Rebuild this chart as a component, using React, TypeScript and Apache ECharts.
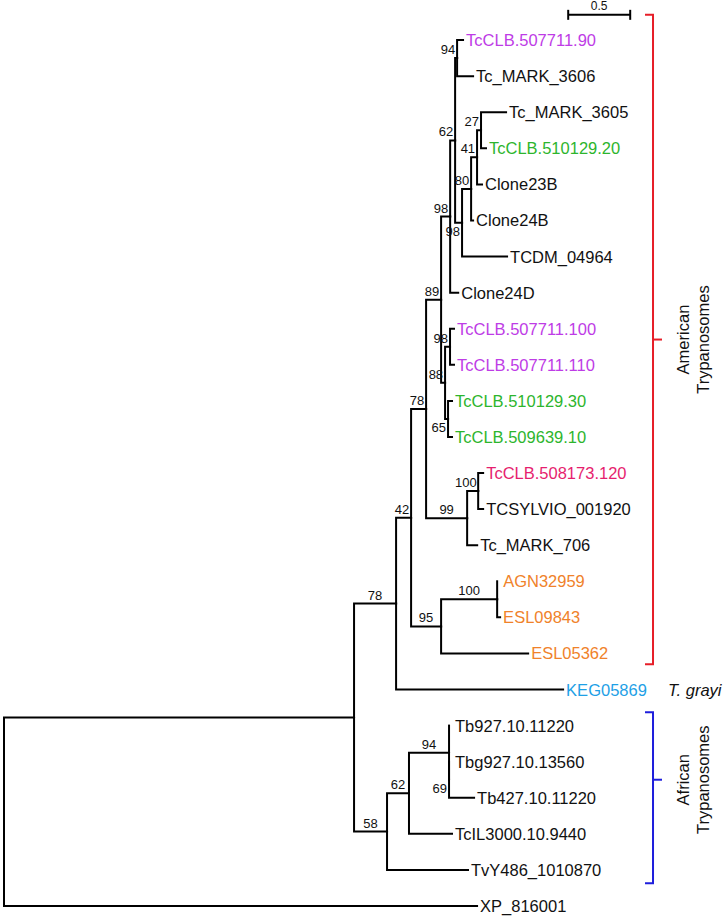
import React, { useEffect, useRef } from 'react';
import * as echarts from 'echarts';

// ---------- DATA ----------
const leafNames = [
  'TcCLB.507711.90', 'Tc_MARK_3606', 'Tc_MARK_3605', 'TcCLB.510129.20', 'Clone23B',
  'Clone24B', 'TCDM_04964', 'Clone24D', 'TcCLB.507711.100', 'TcCLB.507711.110',
  'TcCLB.510129.30', 'TcCLB.509639.10', 'TcCLB.508173.120', 'TCSYLVIO_001920', 'Tc_MARK_706',
  'AGN32959', 'ESL09843', 'ESL05362', 'KEG05869', 'Tb927.10.11220',
  'Tbg927.10.13560', 'Tb427.10.11220', 'TcIL3000.10.9440', 'TvY486_1010870', 'XP_816001',
];
const leafParents = ['A', 'A', 'B', 'B', 'C', 'D', 'E', 'G', 'J', 'J', 'K', 'K', 'N', 'N', 'M', 'Q', 'Q', 'P', 'R', 'V', 'W', 'W', 'U', 'T', 'root'];
const leafBranchLengths = [0.048, 0.129, 0.202, 0.040, 0.040, 0.016, 0.363, 0.065, 0.032, 0.032, 0.032, 0.032, 0.040, 0.040, 0.081, 0, 0.024, 0.702, 1.347, 0, 0, 0.202, 0.347, 0.653, 3.815];
const leafGroups = ['violet', 'black', 'black', 'green', 'black', 'black', 'black', 'black', 'violet', 'violet', 'green', 'green', 'pink', 'black', 'black', 'orange', 'orange', 'orange', 'sky', 'black', 'black', 'black', 'black', 'black', 'black'];

const nodeIds = ['S', 'R', 'T', 'O', 'L', 'P', 'H', 'M', 'G', 'I', 'F', 'A', 'E', 'D', 'C', 'B', 'J', 'K', 'N', 'Q', 'U', 'V', 'W'];
const nodeParents = ['root', 'S', 'S', 'R', 'O', 'O', 'L', 'L', 'H', 'H', 'G', 'F', 'F', 'E', 'D', 'C', 'I', 'I', 'M', 'P', 'T', 'U', 'V'];
const nodeBranchLengths = [2.823, 0.339, 0.266, 0.121, 0.121, 0.242, 0.121, 0.331, 0.073, 0.032, 0.040, 0.016, 0.056, 0.073, 0.048, 0.032, 0.040, 0.024, 0.089, 0.452, 0.177, 0.323, 0];
const nodeSupport = [null, 78, 58, 42, 78, 95, 89, 99, 98, 88, 62, 94, 98, 80, 41, 27, 98, 65, 100, 100, 62, 94, 69];

const scaleBarLength = 0.5;
const scaleBarLabel = '0.5';
const cladeNames = ['American\nTrypanosomes', 'African\nTrypanosomes'];
const cladeFirstLeaf = ['TcCLB.507711.90', 'Tb927.10.11220'];
const cladeLastLeaf = ['ESL05362', 'TvY486_1010870'];
const speciesNoteLeaf = 'KEG05869';
const speciesNoteText = 'T. grayi';

// ---------- STYLE / LAYOUT ----------
const groupColors: Record<string, string> = {
  black: '#111111',
  violet: '#be3ce6',
  green: '#2db52d',
  pink: '#e61e6e',
  orange: '#f0822a',
  sky: '#1ea0e6',
};
const cladeColors = ['#e61e28', '#1e1edc'];
const belowLabelNodes = ['E', 'K', 'W'];
const LEAF_FONT = '16.5px "Liberation Sans", Arial, sans-serif';
const SUPPORT_FONT = '13px "Liberation Sans Narrow", "Liberation Sans", Arial, sans-serif';
const layout = {
  scaleBarX: 4.55,
  scaleBarRow: -0.7,
  bracketX: 5.234,
};

type TNode = {
  id: string;
  parent: string | null;
  bl: number;
  x: number;
  y: number;
  support: number | null;
  leaf: boolean;
  group: string;
  children: string[];
};

function buildTree() {
  const nodes: Record<string, TNode> = {};
  nodes.root = { id: 'root', parent: null, bl: 0, x: 0, y: 0, support: null, leaf: false, group: 'black', children: [] };
  nodeIds.forEach((id, i) => {
    nodes[id] = { id, parent: nodeParents[i], bl: nodeBranchLengths[i], x: 0, y: 0, support: nodeSupport[i], leaf: false, group: 'black', children: [] };
  });
  leafNames.forEach((id, i) => {
    nodes[id] = { id, parent: leafParents[i], bl: leafBranchLengths[i], x: 0, y: i, support: null, leaf: true, group: leafGroups[i], children: [] };
  });
  Object.values(nodes).forEach((n) => {
    if (n.parent) nodes[n.parent].children.push(n.id);
  });
  const setX = (id: string, x: number) => {
    const n = nodes[id];
    n.x = x;
    n.children.forEach((c) => setX(c, x + nodes[c].bl));
  };
  setX('root', 0);
  const setY = (id: string): number => {
    const n = nodes[id];
    if (n.leaf) return n.y;
    const ys = n.children.map(setY);
    n.y = (Math.min(...ys) + Math.max(...ys)) / 2;
    return n.y;
  };
  setY('root');
  return nodes;
}

function textStyle(text: string, fill: string, font: string, align: string, vAlign: string, extra: any = {}) {
  return {
    text,
    fill,
    font,
    align,
    verticalAlign: vAlign,
    textAlign: align,
    textVerticalAlign: vAlign,
    ...extra,
  };
}

export default function App() {
  const ref = useRef<HTMLDivElement>(null);

  useEffect(() => {
    document.body.style.margin = '0';
    if (!ref.current) return;
    const chart = echarts.init(ref.current, null, { renderer: 'svg' });
    const nodes = buildTree();

    const edgeList = Object.values(nodes).filter((n) => n.parent);
    const edgeData = edgeList.map((n) => {
      const p = nodes[n.parent as string];
      return [p.x, p.y, n.x, n.y];
    });

    const leafData = leafNames.map((name) => [nodes[name].x, nodes[name].y]);

    const supportNodes = nodeIds.filter((id) => nodes[id].support != null);
    const supportData = supportNodes.map((id) => {
      const n = nodes[id];
      const p = nodes[n.parent as string];
      return [p.x, n.y, n.x, n.y];
    });

    const branchesSeries = {
      type: 'custom',
      name: 'branches',
      coordinateSystem: 'cartesian2d',
      clip: false,
      encode: { x: [0, 2], y: [1, 3] },
      data: edgeData,
      renderItem: (params: any, api: any) => {
        const p = api.coord([api.value(0), api.value(1)]);
        const corner = api.coord([api.value(0), api.value(3)]);
        const c = api.coord([api.value(2), api.value(3)]);
        return {
          type: 'polyline',
          shape: { points: [p, corner, c] },
          style: { stroke: '#000', lineWidth: 2, fill: null, lineCap: 'square', lineJoin: 'miter' },
        };
      },
    };

    const leafSeries = {
      type: 'custom',
      name: 'leaves',
      coordinateSystem: 'cartesian2d',
      clip: false,
      encode: { x: 0, y: 1 },
      data: leafData,
      renderItem: (params: any, api: any) => {
        const i = params.dataIndex;
        const pt = api.coord([api.value(0), api.value(1)]);
        const gap = leafBranchLengths[i] === 0 ? 6 : 3;
        return {
          type: 'text',
          x: pt[0] + gap,
          y: pt[1],
          style: textStyle(leafNames[i], groupColors[leafGroups[i]], LEAF_FONT, 'left', 'middle'),
        };
      },
    };

    const supportSeries = {
      type: 'custom',
      name: 'support',
      coordinateSystem: 'cartesian2d',
      clip: false,
      encode: { x: [0, 2], y: [1, 3] },
      data: supportData,
      renderItem: (params: any, api: any) => {
        const id = supportNodes[params.dataIndex];
        const label = String(nodes[id].support);
        const p = api.coord([api.value(0), api.value(1)]);
        const n = api.coord([api.value(2), api.value(3)]);
        const w = label.length * 6.2;
        const cx = Math.min((p[0] + n[0]) / 2, n[0] - 3 - w / 2);
        const below = belowLabelNodes.indexOf(id) >= 0;
        return {
          type: 'text',
          x: cx,
          y: below ? n[1] + 2 : n[1] - 2,
          style: textStyle(label, '#111', SUPPORT_FONT, 'center', below ? 'top' : 'bottom'),
        };
      },
    };

    const annotationSeries = {
      type: 'custom',
      name: 'annotations',
      coordinateSystem: 'cartesian2d',
      clip: false,
      encode: { x: 0, y: 1 },
      data: [[layout.scaleBarX, layout.scaleBarRow]],
      renderItem: (params: any, api: any) => {
        const children: any[] = [];
        // scale bar
        const s0 = api.coord([layout.scaleBarX, layout.scaleBarRow]);
        const s1 = api.coord([layout.scaleBarX + scaleBarLength, layout.scaleBarRow]);
        children.push({ type: 'line', shape: { x1: s0[0], y1: s0[1], x2: s1[0], y2: s1[1] }, style: { stroke: '#000', lineWidth: 2 } });
        children.push({ type: 'line', shape: { x1: s0[0], y1: s0[1] - 5, x2: s0[0], y2: s0[1] + 5 }, style: { stroke: '#000', lineWidth: 2 } });
        children.push({ type: 'line', shape: { x1: s1[0], y1: s1[1] - 5, x2: s1[0], y2: s1[1] + 5 }, style: { stroke: '#000', lineWidth: 2 } });
        children.push({
          type: 'text',
          x: (s0[0] + s1[0]) / 2,
          y: s0[1] - 3,
          style: textStyle(scaleBarLabel, '#111', '12px "Liberation Sans", Arial, sans-serif', 'center', 'bottom'),
        });
        // clade brackets
        cladeNames.forEach((name, ci) => {
          const first = nodes[cladeFirstLeaf[ci]].y;
          const last = nodes[cladeLastLeaf[ci]].y;
          const top = ci === 0 ? layout.scaleBarRow : first - 0.37;
          const bottom = ci === 0 ? last + 0.3 : last + 0.37;
          const tickRow = ci === 0 ? (top + bottom) / 2 : (top + bottom) / 2 - 0.5;
          const a = api.coord([layout.bracketX, top]);
          const b = api.coord([layout.bracketX, bottom]);
          const t = api.coord([layout.bracketX, tickRow]);
          const color = cladeColors[ci];
          children.push({
            type: 'polyline',
            shape: { points: [[a[0] - 8, a[1]], a, b, [b[0] - 8, b[1]]] },
            style: { stroke: color, lineWidth: 2, fill: null },
          });
          children.push({ type: 'line', shape: { x1: t[0], y1: t[1], x2: t[0] + 9, y2: t[1] }, style: { stroke: color, lineWidth: 2 } });
          children.push({
            type: 'text',
            x: t[0] + 40,
            y: t[1],
            rotation: Math.PI / 2,
            style: textStyle(name, '#111', LEAF_FONT, 'center', 'middle', { lineHeight: 20 }),
          });
        });
        // species note
        const noteLeaf = nodes[speciesNoteLeaf];
        const np = api.coord([layout.bracketX, noteLeaf.y]);
        children.push({
          type: 'text',
          x: np[0] + 15,
          y: np[1],
          style: textStyle(speciesNoteText, '#111', 'italic ' + LEAF_FONT, 'left', 'middle'),
        });
        return { type: 'group', children };
      },
    };

    chart.setOption({
      animation: false,
      grid: { left: 4, top: 4, width: 682, height: 902, containLabel: false },
      xAxis: { type: 'value', min: 0, max: 5.5, show: false },
      yAxis: { type: 'value', min: -1, max: 24, inverse: true, show: false },
      series: [branchesSeries, leafSeries, supportSeries, annotationSeries],
    });

    return () => chart.dispose();
  }, []);

  return <div ref={ref} style={{ width: 724, height: 920 }} />;
}
